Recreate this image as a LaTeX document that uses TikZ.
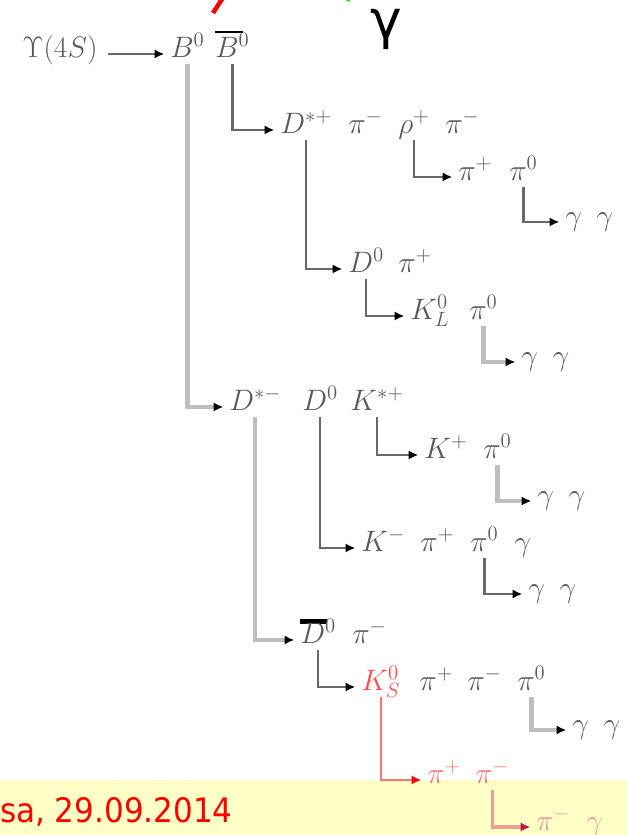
\RequirePackage{fix-cm}
\documentclass[tikz,border=0pt]{standalone}
\usepackage{fontspec}
\usetikzlibrary{arrows.meta}
\newfontfamily\slidefont{DejaVu Sans}
\newfontfamily\datefont[FakeStretch=0.92]{DejaVu Sans}
\definecolor{DG}{RGB}{105,105,105}
\definecolor{LG}{RGB}{190,190,190}
\definecolor{TX}{RGB}{90,90,90}
\definecolor{KR}{RGB}{255,75,75}
\definecolor{PR}{RGB}{255,115,115}
\definecolor{PK}{RGB}{235,160,150}
\definecolor{PT}{RGB}{240,150,150}
\definecolor{CR}{RGB}{200,20,70}
\definecolor{YB}{RGB}{255,255,198}
\definecolor{RD}{RGB}{255,0,0}
\definecolor{GR}{RGB}{0,230,0}
% black bar above a symbol: width, raise, thickness
\newcommand{\obar}[3]{\rlap{\color{black}\rule[#2]{#1}{#3}}}

\begin{document}
\begin{tikzpicture}[x=0.025cm,y=-0.025cm,
  pt/.style={anchor=base west, inner sep=0pt, text depth=5pt, text=TX,
             font=\fontsize{21}{25}\selectfont},
  dk/.style={DG, line width=1.7pt, shorten >=4pt,
             -{Latex[length=7pt,width=6.5pt,color=black]}},
  lt/.style={LG, line width=3pt, shorten >=4pt,
             -{Latex[length=7pt,width=6.5pt,color=black]}},
  rd/.style={PR, line width=1.4pt, shorten >=4pt,
             -{Latex[length=7pt,width=6.5pt,color=RD]}},
  pk/.style={PK, line width=2.4pt, shorten >=4pt,
             -{Latex[length=7pt,width=6.5pt,color=CR]}}]
\useasboundingbox (0,0) rectangle (627,835);
\fill[white] (0,0) rectangle (627,780);
\fill[YB] (0,780) rectangle (627,835);

\draw[RD, line width=3.2pt] (213,13) -- (224,-4);
\draw[GR, line width=3pt] (338,-6) -- (350,0);
\node[anchor=base west, inner sep=0pt, font=\slidefont\fontsize{38}{44}\selectfont]
  (gbig) at (370,38) {γ};
\node[anchor=base east, inner sep=0pt, text=RD, font=\datefont\fontsize{24}{28}\selectfont]
  (date) at (233,822) {sa, 29.09.2014};

\node[pt] (ups)   at (22,57)   {$\Upsilon(4S)$};
\node[pt] (bz)    at (170,57)  {$B^0$};
\node[pt] (bzb)   at (215,57)  {$\obar{0.94em}{0.8em}{0.07em}B^0$};

\node[pt] (dsp)   at (280,133) {$D^{*+}$};
\node[pt] (pima)  at (348,133) {$\pi^-$};
\node[pt] (rhop)  at (398,133) {$\rho^+$};
\node[pt] (pimb)  at (445,133) {$\pi^-$};

\node[pt] (pipa)  at (458,180) {$\pi^+$};
\node[pt] (piza)  at (509,180) {$\pi^0$};
\node[pt] (gga)   at (565,225) {$\gamma\enspace\gamma$};

\node[pt] (dza)   at (348,272) {$D^0$};
\node[pt] (pipb)  at (398,272) {$\pi^+$};
\node[pt] (kl)    at (410,319) {$K^0_L$};
\node[pt] (pizb)  at (469,319) {$\pi^0$};
\node[pt] (ggb)   at (521,365) {$\gamma\enspace\gamma$};

\node[pt] (dsm)   at (229,410) {$D^{*-}$};
\node[pt] (dzb)   at (302,410) {$D^0$};
\node[pt] (ksp)   at (350,410) {$K^{*+}$};

\node[pt] (kp)    at (424,458) {$K^+$};
\node[pt] (pizc)  at (483,458) {$\pi^0$};
\node[pt] (ggc)   at (537,504) {$\gamma\enspace\gamma$};

\node[pt] (km)    at (361,551) {$K^-$};
\node[pt] (pipc)  at (420,551) {$\pi^+$};
\node[pt] (pizd)  at (470,551) {$\pi^0$};
\node[pt] (gam)   at (514,551) {$\gamma$};
\node[pt] (ggd)   at (528,597) {$\gamma\enspace\gamma$};

\node[pt] (dzbar) at (300,643) {$\obar{0.9em}{0.64em}{0.17em}D^0$};
\node[pt] (pimc)  at (352,643) {$\pi^-$};

\node[pt, text=KR] (ks) at (361,690) {$K^0_S$};
\node[pt] (pipd)  at (419,690) {$\pi^+$};
\node[pt] (pimd)  at (467,690) {$\pi^-$};
\node[pt] (pize)  at (517,690) {$\pi^0$};
\node[pt] (gge)   at (572,733) {$\gamma\enspace\gamma$};

\node[pt, text=PR] (pipe) at (427,783) {$\pi^+$};
\node[pt, text=PR] (pime) at (475,783) {$\pi^-$};
\node[pt, text=PT] (pimf) at (536,830) {$\pi^-$};
\node[pt, text=PT] (gamf) at (586,830) {$\gamma$};

\draw[dk, shorten <=7pt] (ups.mid east) -- (bz.mid west);
\draw[lt] (bz.south)    |- (dsm.mid west);
\draw[dk] (bzb.south)   |- (dsp.mid west);
\draw[dk] (dsp.south)   |- (dza.mid west);
\draw[dk] (rhop.south)  |- (pipa.mid west);
\draw[dk] (piza.south)  |- (gga.mid west);
\draw[dk] (dza.south)   |- (kl.mid west);
\draw[lt] (pizb.south)  |- (ggb.mid west);
\draw[dk] (ksp.south)   |- (kp.mid west);
\draw[lt] (pizc.south)  |- (ggc.mid west);
\draw[dk] (dzb.south)   |- (km.mid west);
\draw[dk] (pizd.south)  |- (ggd.mid west);
\draw[lt] (dsm.south)   |- (dzbar.mid west);
\draw[dk] (dzbar.south) |- (ks.mid west);
\draw[lt] (pize.south)  |- (gge.mid west);
\draw[rd] (ks.south)    |- (pipe.mid west);
\draw[pk] (pime.south)  |- (pimf.mid west);
\end{tikzpicture}
\end{document}
